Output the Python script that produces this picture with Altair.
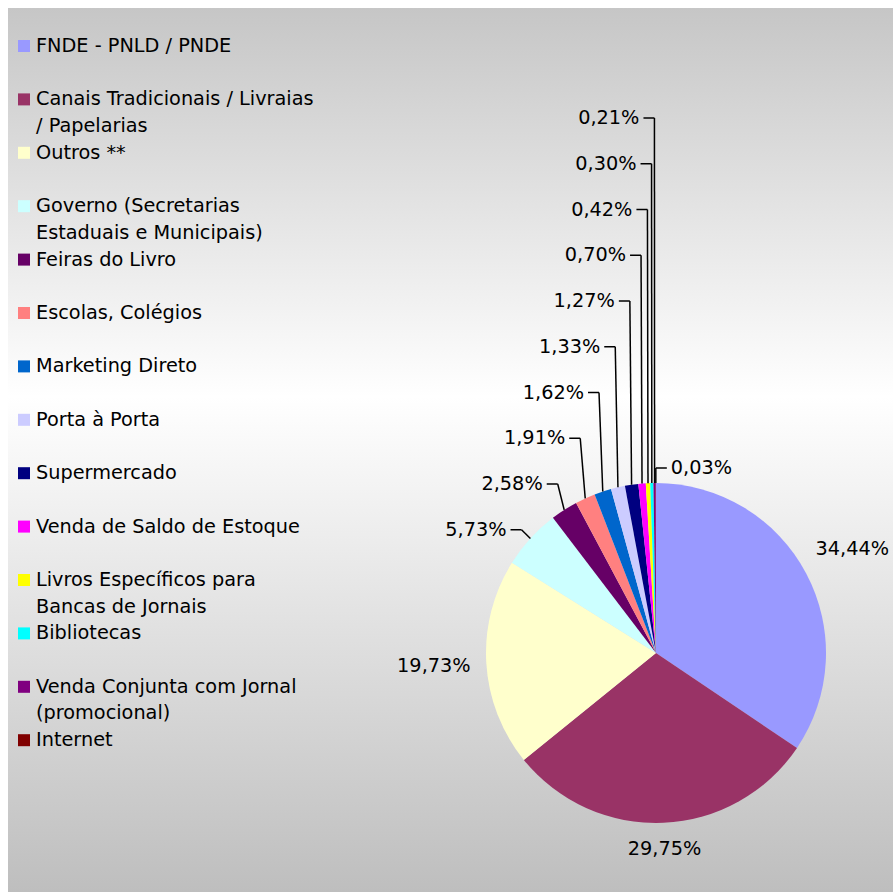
import altair as alt
import pandas as pd

# ---------------- data ----------------
categories = [
    "FNDE - PNLD / PNDE",
    "Canais Tradicionais / Livraias / Papelarias",
    "Outros **",
    "Governo (Secretarias Estaduais e Municipais)",
    "Feiras do Livro",
    "Escolas, Colégios",
    "Marketing Direto",
    "Porta à Porta",
    "Supermercado",
    "Venda de Saldo de Estoque",
    "Livros Específicos para Bancas de Jornais",
    "Bibliotecas",
    "Venda Conjunta com Jornal (promocional)",
    "Internet",
]
values = [34.44, 29.75, 19.73, 5.73, 2.58, 1.91, 1.62, 1.33, 1.27, 0.70, 0.42, 0.30, 0.21, 0.03]
colors = [
    "#9999FF", "#993366", "#FFFFCC", "#CCFFFF", "#660066", "#FF8080", "#0066CC",
    "#CCCCFF", "#000080", "#FF00FF", "#FFFF00", "#00FFFF", "#800080", "#800000",
]
legend_lines = [
    ["FNDE - PNLD / PNDE"],
    ["Canais Tradicionais / Livraias", "/ Papelarias"],
    ["Outros **"],
    ["Governo (Secretarias", "Estaduais e Municipais)"],
    ["Feiras do Livro"],
    ["Escolas, Colégios"],
    ["Marketing Direto"],
    ["Porta à Porta"],
    ["Supermercado"],
    ["Venda de Saldo de Estoque"],
    ["Livros Específicos para", "Bancas de Jornais"],
    ["Bibliotecas"],
    ["Venda Conjunta com Jornal", "(promocional)"],
    ["Internet"],
]

# ---------------- layout constants ----------------
W, H = 896, 892
CX, CY, R = 656, 653, 170
FONT = "DejaVu Sans"
FS = 19.3
LEG_TOP, LEG_STEP, LEG_LINE = 46, 53.4, 26.5
STACK_BASE, STACK_STEP = 484, 45.75
GAP, HALF_W, HALF_H = 15, 37, 10

df = pd.DataFrame({"cat": categories, "value": values, "idx": list(range(len(values)))})
leg_rows = []
for i, (c, lines) in enumerate(zip(categories, legend_lines)):
    for j, t in enumerate(lines):
        leg_rows.append({"cat": c, "idx": i, "line": j, "text": t})
leg_df = pd.DataFrame(leg_rows)

xs = alt.Scale(domain=[0, W], range=[0, W], zero=False, nice=False)
ys = alt.Scale(domain=[0, H], range=[0, H], zero=False, nice=False)
color_scale = alt.Scale(domain=categories, range=colors)

# background gradient
bg = alt.Chart(pd.DataFrame({"k": [0]})).mark_rect(
    color=alt.Gradient(
        gradient="linear", x1=0, x2=0, y1=0, y2=1,
        stops=[
            alt.GradientStop(color="#c6c6c6", offset=0),
            alt.GradientStop(color="#ffffff", offset=0.44),
            alt.GradientStop(color="#bebebe", offset=1),
        ],
    )
).encode(x=alt.value(8), x2=alt.value(893), y=alt.value(8), y2=alt.value(H))

# pie
arcs = alt.Chart(df).mark_arc(outerRadius=R).encode(
    theta=alt.Theta("value:Q", stack=True),
    color=alt.Color("cat:N", scale=color_scale, legend=None),
    order=alt.Order("idx:Q", sort="ascending"),
    x=alt.value(CX),
    y=alt.value(CY),
)

base = (
    alt.Chart(df)
    .transform_joinaggregate(total="sum(value)")
    .transform_window(cum_end="sum(value)", sort=[alt.SortField("idx")], frame=[None, 0])
    .transform_calculate(
        a="2*PI*(datum.cum_end - datum.value/2)/datum.total",
        lab="replace(format(datum.value, '.2f'), '.', ',') + '%'",
    )
    .transform_calculate(
        ex=f"{CX} + {R}*sin(datum.a)",
        ey=f"{CY} - {R}*cos(datum.a)",
        lr=f"{R} + {GAP} + {HALF_W}*abs(sin(datum.a)) + {HALF_H}*abs(cos(datum.a))",
    )
)

# big labels
big = base.transform_filter("datum.idx < 3").transform_calculate(
    lx=f"{CX} + datum.lr*sin(datum.a)",
    ly=f"{CY} - datum.lr*cos(datum.a)",
).mark_text(font=FONT, fontSize=FS, color="#000000", align="center", baseline="middle").encode(
    x=alt.X("lx:Q", scale=xs, axis=None),
    y=alt.Y("ly:Q", scale=ys, axis=None),
    text="lab:N",
)

small = base.transform_filter("datum.idx >= 3").transform_calculate(
    side="datum.idx == 13 ? 1 : -1",
    ly=f"datum.idx == 13 ? datum.ey - 15 : {STACK_BASE} - (datum.idx - 4)*{STACK_STEP}",
    xv="datum.ex - 12*abs(sin(datum.a))",
).transform_calculate(
    xt="datum.xv + datum.side*11",
    xtext="datum.xv + datum.side*15",
)

tick = small.mark_rule(color="#000000", strokeWidth=1.5).encode(
    x=alt.X("xv:Q", scale=xs, axis=None), x2="xt:Q",
    y=alt.Y("ly:Q", scale=ys, axis=None), y2="ly:Q",
)
conn = small.mark_rule(color="#000000", strokeWidth=1.5).encode(
    x=alt.X("xv:Q", scale=xs, axis=None), x2="ex:Q",
    y=alt.Y("ly:Q", scale=ys, axis=None), y2="ey:Q",
)
small_left = small.transform_filter("datum.side < 0").mark_text(
    font=FONT, fontSize=FS, color="#000000", align="right", baseline="middle"
).encode(
    x=alt.X("xtext:Q", scale=xs, axis=None),
    y=alt.Y("ly:Q", scale=ys, axis=None),
    text="lab:N",
)
small_right = small.transform_filter("datum.side > 0").mark_text(
    font=FONT, fontSize=FS, color="#000000", align="left", baseline="middle"
).encode(
    x=alt.X("xtext:Q", scale=xs, axis=None),
    y=alt.Y("ly:Q", scale=ys, axis=None),
    text="lab:N",
)

# legend
leg_sq = alt.Chart(df).transform_calculate(
    ly=f"{LEG_TOP} + datum.idx*{LEG_STEP}", lx="24"
).mark_square(size=144, opacity=1).encode(
    x=alt.X("lx:Q", scale=xs, axis=None),
    y=alt.Y("ly:Q", scale=ys, axis=None),
    color=alt.Color("cat:N", scale=color_scale, legend=None),
)
leg_txt = alt.Chart(leg_df).transform_calculate(
    ly=f"{LEG_TOP} + datum.idx*{LEG_STEP} + datum.line*{LEG_LINE}", lx="36"
).mark_text(font=FONT, fontSize=FS, color="#000000", align="left", baseline="middle").encode(
    x=alt.X("lx:Q", scale=xs, axis=None),
    y=alt.Y("ly:Q", scale=ys, axis=None),
    text="text:N",
)

chart = alt.layer(bg, arcs, tick, conn, big, small_left, small_right, leg_sq, leg_txt).properties(
    width=W, height=H, autosize=alt.AutoSizeParams(type="none"), padding=0
).configure_view(stroke=None)

chart.save("out.html", embed_options={"renderer": "svg", "actions": False})
